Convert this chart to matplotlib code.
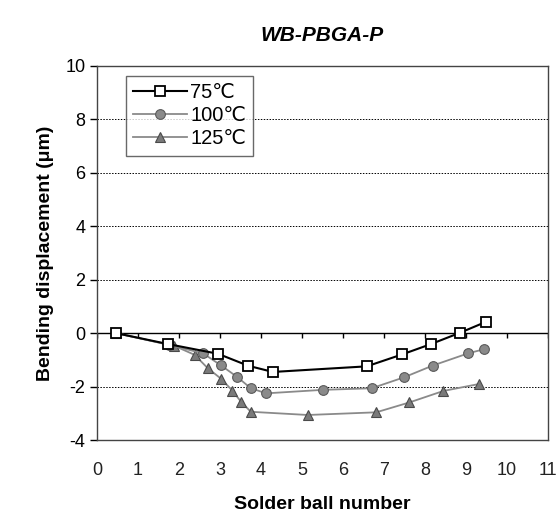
import matplotlib
matplotlib.use("Agg")
import matplotlib.pyplot as plt

x75 = [0.47, 1.74, 2.95, 3.69, 4.29, 6.58, 7.45, 8.14, 8.86, 9.48]
y75 = [0.0, -0.41, -0.77, -1.22, -1.45, -1.24, -0.79, -0.41, 0.02, 0.42]

x100 = [0.47, 1.76, 2.58, 3.02, 3.42, 3.75, 4.13, 5.50, 6.70, 7.49, 8.19, 9.06, 9.44]
y100 = [0.0, -0.44, -0.75, -1.20, -1.64, -2.06, -2.25, -2.12, -2.06, -1.65, -1.21, -0.75, -0.60]

x125 = [0.47, 1.88, 2.38, 2.70, 3.03, 3.30, 3.51, 3.75, 5.14, 6.81, 7.62, 8.45, 9.32]
y125 = [0.0, -0.47, -0.81, -1.31, -1.71, -2.15, -2.56, -2.94, -3.06, -2.96, -2.59, -2.16, -1.90]

labels = ["75\u2103", "100\u2103", "125\u2103"]
xticks = list(range(0, 12))
yticks = list(range(-4, 11, 2))

plt.rcParams['font.family'] = ['Liberation Sans', 'DejaVu Sans']
plt.rcParams['axes.unicode_minus'] = False

fig = plt.figure(figsize=(5.58, 5.19), dpi=100)
ax = fig.add_axes([0.174, 0.152, 0.808, 0.721])

for yv in yticks:
    ax.axhline(yv, color='black', lw=0.7, ls=(0, (1.5, 1.5)), zorder=1)
ax.axhline(0, color='black', lw=1.0, zorder=2)
ax.vlines(xticks, -0.18, 0, color='black', lw=1.0, zorder=2)

ax.plot(x75, y75, color='black', lw=1.5, marker='s', ms=6.5, mfc='white',
        mec='black', mew=1.3, label=labels[0], zorder=5)
ax.plot(x100, y100, color='#8a8a8a', lw=1.3, marker='o', ms=7, mfc='#8a8a8a',
        mec='#5a5a5a', mew=0.8, label=labels[1], zorder=4)
ax.plot(x125, y125, color='#8a8a8a', lw=1.3, marker='^', ms=7.5, mfc='#7a7a7a',
        mec='#4a4a4a', mew=0.8, label=labels[2], zorder=3)

ax.set_xlim(0, 11)
ax.set_ylim(-4, 10)
ax.set_xticks(xticks)
ax.set_yticks(yticks)
ax.tick_params(axis='x', length=0, pad=16, labelsize=13, colors='#222222')
ax.tick_params(axis='y', length=5, direction='out', labelsize=13, width=1)
for sp in ax.spines.values():
    sp.set_color('#444444')
    sp.set_linewidth(1.0)

ax.set_xlabel("Solder ball number", fontsize=14, fontweight='bold', labelpad=12)
ax.set_ylabel("Bending displacement (\u03bcm)", fontsize=14, fontweight='bold', labelpad=8)
ax.set_title("WB-PBGA-P", fontsize=15, fontweight='bold', style='italic', pad=18)

leg = ax.legend(loc='upper left', bbox_to_anchor=(0.055, 0.985), fontsize=14.5,
                frameon=True, fancybox=False, edgecolor='#444444',
                handlelength=2.7, handletextpad=0.15, borderpad=0.35,
                labelspacing=0.22, borderaxespad=0.2)
leg.get_frame().set_linewidth(1.0)

fig.savefig("out.png", dpi=100)
